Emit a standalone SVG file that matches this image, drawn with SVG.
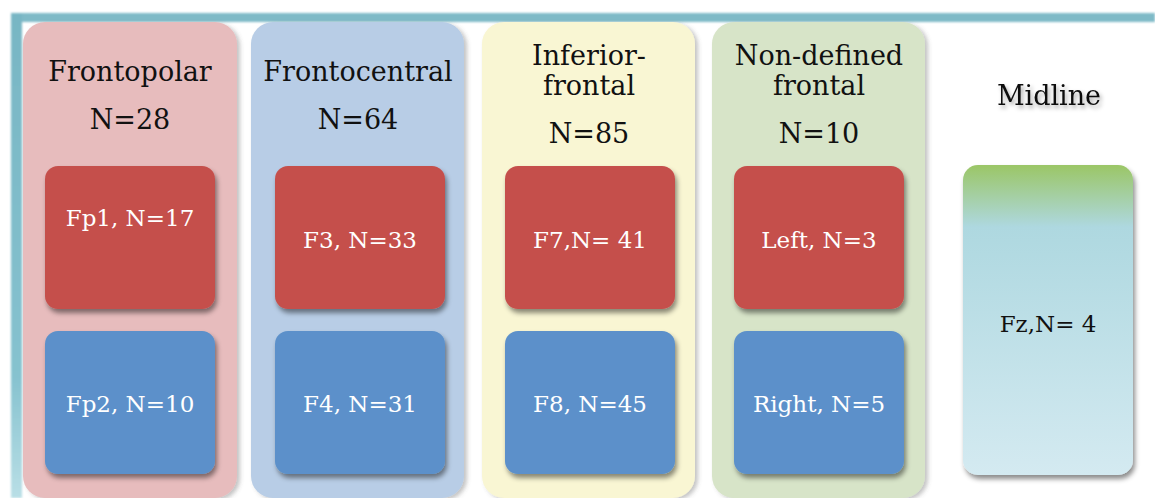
<svg xmlns="http://www.w3.org/2000/svg" width="1155" height="498" viewBox="0 0 1155 498">
<defs>
<style>
.hdr{font-family:"DejaVu Serif","Liberation Serif",serif;font-size:27px;fill:#111;text-anchor:middle}
.lbl{font-family:"DejaVu Serif","Liberation Serif",serif;font-size:23px;fill:#fff;text-anchor:middle}
.red{fill:#C5504C}
.blue{fill:#5B90CA}
</style>
<filter id="sh" x="-10%" y="-10%" width="130%" height="130%">
<feDropShadow dx="2" dy="4" stdDeviation="2.5" flood-color="#000" flood-opacity="0.45"/>
</filter>
<filter id="csh" x="-10%" y="-10%" width="130%" height="130%">
<feDropShadow dx="3" dy="2" stdDeviation="2" flood-color="#555" flood-opacity="0.35"/>
</filter>
<filter id="tsh" x="-20%" y="-40%" width="140%" height="180%">
<feDropShadow dx="2" dy="3" stdDeviation="2" flood-color="#000" flood-opacity="0.35"/>
</filter>
<filter id="blur" x="-5%" y="-5%" width="110%" height="110%"><feGaussianBlur stdDeviation="1.2"/></filter>
<linearGradient id="fz" x1="0" y1="0" x2="0" y2="1">
<stop offset="0" stop-color="#9BC666"/>
<stop offset="0.2" stop-color="#AED8E0"/>
<stop offset="1" stop-color="#D4EAF1"/>
</linearGradient>
<linearGradient id="lbar" x1="0" y1="0" x2="0" y2="1">
<stop offset="0" stop-color="#78B6C4"/>
<stop offset="0.75" stop-color="#86C2CF"/>
<stop offset="1" stop-color="#B9DFE6"/>
</linearGradient>
</defs>
<rect width="1155" height="498" fill="#fff"/>
<g id="frame" filter="url(#blur)">
<rect x="13" y="13" width="1142" height="9" fill="#7FBAC7"/>
<rect x="11" y="13" width="11" height="485" fill="url(#lbar)"/>
</g>
<g id="frontopolar">
<rect x="23" y="22" width="214" height="476" rx="22" fill="#E7BCBD" filter="url(#csh)"/>
<text class="hdr" x="130" y="81">Frontopolar</text>
<text class="hdr" x="130" y="129">N=28</text>
</g>
<g id="frontocentral">
<rect x="251" y="22" width="213" height="476" rx="22" fill="#B8CDE6" filter="url(#csh)"/>
<text class="hdr" x="358" y="81">Frontocentral</text>
<text class="hdr" x="358" y="129">N=64</text>
</g>
<g id="inferior-frontal">
<rect x="482" y="22" width="213" height="476" rx="22" fill="#F9F6D3" filter="url(#csh)"/>
<text class="hdr" x="589" y="65">Inferior-</text>
<text class="hdr" x="589" y="95">frontal</text>
<text class="hdr" x="589" y="143">N=85</text>
</g>
<g id="non-defined-frontal">
<rect x="712" y="22" width="213" height="476" rx="22" fill="#D7E4C8" filter="url(#csh)"/>
<text class="hdr" x="819" y="65">Non-defined</text>
<text class="hdr" x="819" y="95">frontal</text>
<text class="hdr" x="819" y="143">N=10</text>
</g>
<g id="midline">
<text class="hdr" x="1049" y="105" filter="url(#tsh)">Midline</text>
</g>
<g id="fp1"><rect class="red" x="45" y="166" width="170" height="143" rx="13" filter="url(#sh)"/><text class="lbl" x="130" y="226">Fp1, N=17</text></g>
<g id="fp2"><rect class="blue" x="45" y="331" width="170" height="143" rx="13" filter="url(#sh)"/><text class="lbl" x="130" y="412">Fp2, N=10</text></g>
<g id="f3"><rect class="red" x="275" y="166" width="170" height="143" rx="13" filter="url(#sh)"/><text class="lbl" x="360" y="248">F3, N=33</text></g>
<g id="f4"><rect class="blue" x="275" y="331" width="170" height="143" rx="13" filter="url(#sh)"/><text class="lbl" x="360" y="412">F4, N=31</text></g>
<g id="f7"><rect class="red" x="505" y="166" width="170" height="143" rx="13" filter="url(#sh)"/><text class="lbl" x="590" y="248">F7,N= 41</text></g>
<g id="f8"><rect class="blue" x="505" y="331" width="170" height="143" rx="13" filter="url(#sh)"/><text class="lbl" x="590" y="412">F8, N=45</text></g>
<g id="left"><rect class="red" x="734" y="166" width="170" height="143" rx="13" filter="url(#sh)"/><text class="lbl" x="819" y="248">Left, N=3</text></g>
<g id="right"><rect class="blue" x="734" y="331" width="170" height="143" rx="13" filter="url(#sh)"/><text class="lbl" x="819" y="412">Right, N=5</text></g>
<g id="fz"><rect x="963" y="165" width="170" height="310" rx="15" fill="url(#fz)" filter="url(#sh)"/><text class="lbl" x="1048" y="332" style="fill:#111">Fz,N= 4</text></g>
<g id="connectors"/>
</svg>
